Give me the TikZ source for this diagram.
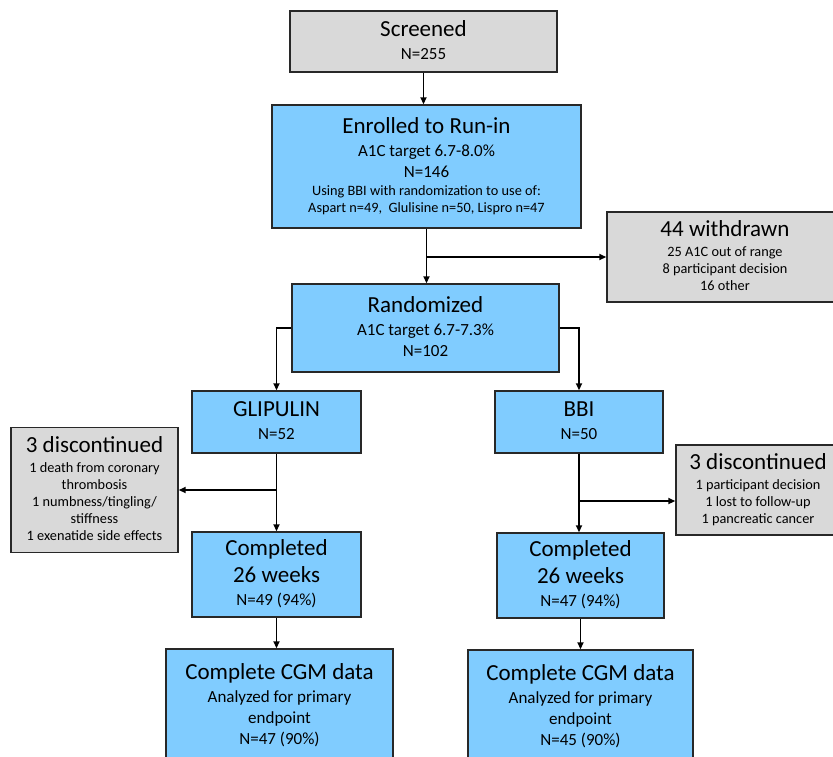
\documentclass[tikz,border=0pt]{standalone}
\usepackage{fontspec}
\setmainfont{Carlito}
\usetikzlibrary{arrows.meta}
\definecolor{boxblue}{RGB}{128,204,255}
\definecolor{boxgray}{RGB}{217,217,217}
\definecolor{boxline}{RGB}{40,40,40}
\newcommand{\bigtxt}{\fontsize{23}{26}\selectfont\strut}
\newcommand{\medtxt}{\fontsize{17}{20}\selectfont\strut}
\newcommand{\smltxt}{\fontsize{14.3}{16}\selectfont\strut}
\begin{document}
\begin{tikzpicture}
    [x=1pt,y=-1pt,
    every node/.style={draw=boxline,line width=1.4pt,align=center,inner sep=0pt,
      font=\fontsize{1}{1}\selectfont},
    bluebox/.style={fill=boxblue},
    graybox/.style={fill=boxgray},
    arr/.style={-{Triangle[length=7pt,width=6pt]},line width=1.8pt}]
    \useasboundingbox (0,0) rectangle (833,756);
    \clip (0,0) rectangle (833,756);
    % main column
    \node[graybox,minimum width=267pt,minimum height=61pt] (screen) at (423.5,41.5)
      {\bigtxt Screened\\ \medtxt N=255};
    \node[bluebox,minimum width=309pt,minimum height=123pt] (enrol) at (426.5,166.5)
      {\bigtxt Enrolled to Run-in\\ \medtxt A1C target 6.7-8.0\%\\ \medtxt N=146\\
       \smltxt Using BBI with randomization to use of:\\
       \smltxt Aspart n=49,\ \ Glulisine n=50, Lispro n=47};
    \node[graybox,minimum width=236pt,minimum height=90pt] (withdr) at (725,257)
      {\bigtxt 44 withdrawn\\ \smltxt 25 A1C out of range\\ \smltxt 8 participant decision\\
       \smltxt 16 other};
    \node[bluebox,minimum width=267pt,minimum height=88pt] (rand) at (425.5,328)
      {\bigtxt Randomized\\ \medtxt A1C target 6.7-7.3\%\\ \medtxt N=102};
    % two arms
    \node[bluebox,minimum width=169pt,minimum height=62pt] (glip) at (276.5,422)
      {\bigtxt GLIPULIN\\ \medtxt N=52};
    \node[bluebox,minimum width=168pt,minimum height=62pt] (bbi) at (579,422)
      {\bigtxt BBI\\ \medtxt N=50};
    \node[graybox,minimum width=167pt,minimum height=125pt] (discL) at (94.5,490)
      {\bigtxt 3 discontinued\\ \smltxt 1 death from coronary\\ \smltxt thrombosis\\
       \smltxt 1 numbness/tingling/\\ \smltxt stiffness\\ \smltxt 1 exenatide side effects};
    \node[graybox,minimum width=164pt,minimum height=90pt] (discR) at (758,490)
      {\bigtxt 3 discontinued\\ \smltxt 1 participant decision\\ \smltxt 1 lost to follow-up\\
       \smltxt 1 pancreatic cancer};
    \node[bluebox,minimum width=169pt,minimum height=85pt] (compL) at (276.5,574.5)
      {\bigtxt Completed\\ \bigtxt 26 weeks\\ \medtxt N=49 (94\%)};
    \node[bluebox,minimum width=167pt,minimum height=85pt] (compR) at (580.5,575.5)
      {\bigtxt Completed\\ \bigtxt 26 weeks\\ \medtxt N=47 (94\%)};
    \node[bluebox,minimum width=227pt,minimum height=114pt] (cgmL) at (279.5,706)
      {\bigtxt Complete CGM data\\ \medtxt Analyzed for primary\\ \medtxt endpoint\\
       \medtxt N=47 (90\%)};
    \node[bluebox,minimum width=225pt,minimum height=114pt] (cgmR) at (580.5,707)
      {\bigtxt Complete CGM data\\ \medtxt Analyzed for primary\\ \medtxt endpoint\\
       \medtxt N=45 (90\%)};
    \coordinate (bbiBr) at (579,501);
    % connectors
    \draw[arr] (screen.south) -- (screen.south |- enrol.north);
    \draw[arr] (enrol.south) -- (enrol.south |- rand.north);
    \draw[arr] (withdr.west -| enrol.south) -- (withdr.west);
    \draw[arr] (rand.west) -| (glip.north);
    \draw[arr] (rand.east) -| (bbi.north);
    \draw[arr] (glip.south) -- (compL.north -| glip.south);
    \draw[arr] (discL.east -| glip.south) -- (discL.east);
    \draw[arr] (bbi.south) -- (compR.north -| bbi.south);
    \draw[arr] (bbiBr) -- (bbiBr -| discR.west);
    \draw[arr] (compL.south) -- (compL.south |- cgmL.north);
    \draw[arr] (compR.south) -- (compR.south |- cgmR.north);
\end{tikzpicture}
\end{document}
